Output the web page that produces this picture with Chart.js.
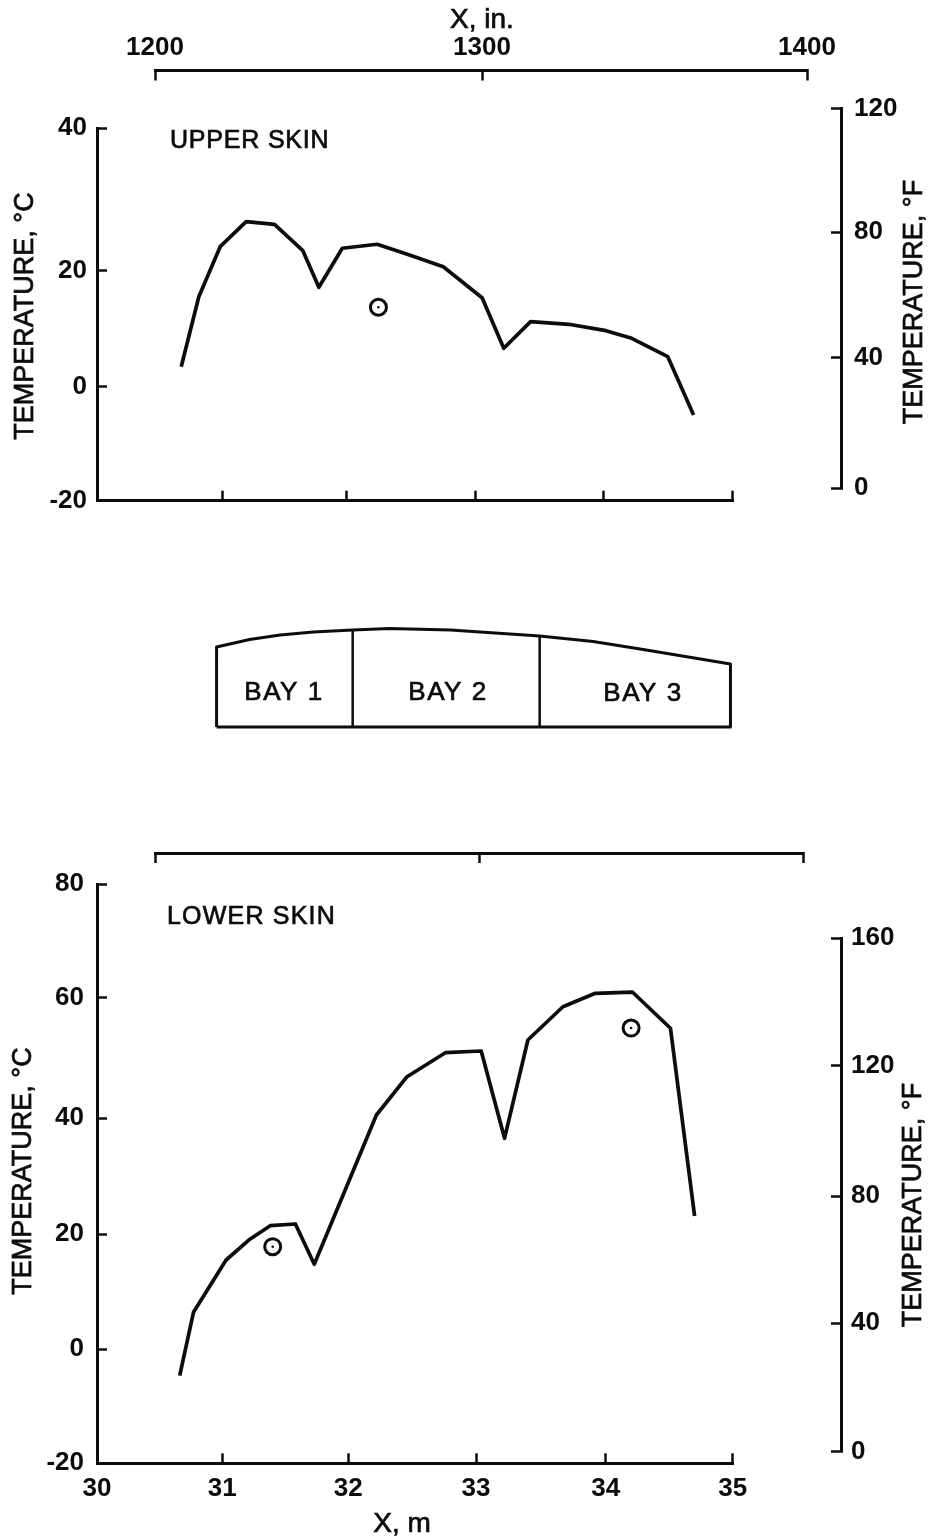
<!DOCTYPE html>
<html>
<head>
<meta charset="utf-8">
<title>Skin temperature</title>
<script src="https://cdn.jsdelivr.net/npm/chart.js@4/dist/chart.umd.min.js"></script>
<style>
  html, body { margin: 0; background: #fff; }
  #page { position: relative; width: 933px; height: 1538px; overflow: hidden; }
  #page canvas { position: absolute; left: 0; top: 0; }
</style>
</head>
<body>
<div id="page"></div>
<script>
// values
var upperX = [30.67, 30.81, 30.98, 31.19, 31.42, 31.65, 31.78, 31.97, 32.24, 32.49, 32.75, 33.05, 33.22, 33.43, 33.73, 34.02, 34.22, 34.50, 34.70];
var upperTemp = [3.44, 15.49, 23.34, 26.85, 26.48, 22.78, 17.11, 23.12, 23.68, 22.18, 20.53, 15.32, 6.61, 11.19, 10.74, 9.64, 8.33, 5.16, -4.96];
var upperMarkX = [32.25];
var upperMarkTemp = [13.67];

var lowerX = [30.66, 30.77, 31.03, 31.21, 31.38, 31.58, 31.73, 32.22, 32.46, 32.76, 33.04, 33.22, 33.40, 33.67, 33.92, 34.21, 34.51, 34.70];
var lowerTemp = [-4.63, 6.43, 15.53, 19.0, 21.48, 21.78, 14.78, 40.55, 46.9, 50.88, 51.16, 36.55, 52.99, 58.5, 60.78, 61.0, 54.93, 23.16];
var lowerMarkX = [31.40, 34.20];
var lowerMarkTemp = [17.84, 54.97];

// bay outline, x in m, height above the base line
var bayX = [30.94, 30.94, 31.2, 31.44, 31.7, 32.01, 32.30, 32.78, 33.48, 33.9, 34.27, 34.98, 34.98, 30.94];
var bayHeight = [0, 80, 87.5, 92, 95, 97, 98.5, 97, 91, 85.5, 78, 63, 0, 0];
var bay1EndX = [32.01, 32.01];
var bay2EndX = [33.48, 33.48];
var bay1EndHeight = [0, 97];
var bay2EndHeight = [0, 91];

// tick labels
var meterTicks = [30, 31, 32, 33, 34, 35];
var inchTicks = [1200, 1300, 1400];
var upperCTicks = [-20, 0, 20, 40];
var upperFTicks = [0, 40, 80, 120];
var lowerCTicks = [-20, 0, 20, 40, 60, 80];
var lowerFTicks = [0, 40, 80, 120, 160];

var INK = '#0c0c0c';
var W = 933, H = 1538;
var TICK_FONT = { family: 'Liberation Sans', size: 26, weight: 'bold' };

// the printed axes are not evenly spaced, so go from tick to tick
class TickScale extends Chart.LinearScale {
  getPixelForValue(v) {
    var t = this.options.tickValues, p = this.options.tickPixels;
    var i = 0;
    while (i < t.length - 2 && v > t[i + 1]) i++;
    return p[i] + (v - t[i]) / (t[i + 1] - t[i]) * (p[i + 1] - p[i]);
  }
}
TickScale.id = 'tickScale';
TickScale.defaults = Chart.LinearScale.defaults;
Chart.register(TickScale);

var captions = {
  id: 'captions',
  afterDraw: function (chart, args, opts) {
    var ctx = chart.ctx;
    (opts.items || []).forEach(function (c) {
      ctx.save();
      ctx.translate(c.x, c.y);
      if (c.up) ctx.rotate(-Math.PI / 2);
      ctx.fillStyle = INK;
      ctx.strokeStyle = INK;
      ctx.font = c.font || '25px "Liberation Sans"';
      ctx.letterSpacing = c.spacing || '0px';
      ctx.textAlign = c.align || 'center';
      ctx.textBaseline = 'middle';
      ctx.fillText(c.text, 0, 0);
      // scanned type is heavier than the regular face
      ctx.lineWidth = 0.7;
      ctx.strokeText(c.text, 0, 0);
      ctx.restore();
    });
  }
};

function xy(xs, ys) {
  return xs.map(function (x, i) { return { x: x, y: ys[i] }; });
}

function lineSet(xs, ys, width) {
  return { data: xy(xs, ys), showLine: true, borderColor: INK, borderWidth: width || 3.7, pointRadius: 0, tension: 0, clip: false, borderJoinStyle: 'round' };
}

function markSets(xs, ys) {
  return [
    { data: xy(xs, ys), showLine: false, pointRadius: 8, pointBorderWidth: 3, pointBorderColor: INK, pointBackgroundColor: 'rgba(0,0,0,0)', clip: false },
    { data: xy(xs, ys), showLine: false, pointRadius: 1.3, pointBorderWidth: 0, pointBackgroundColor: INK, clip: false }
  ];
}

// one axis, ticks pointing into the plot, labels just outside it
function axis(position, ticks, pixels, gap, showLabels) {
  return {
    type: 'tickScale',
    position: position,
    min: ticks[0],
    max: ticks[ticks.length - 1],
    tickValues: ticks,
    tickPixels: pixels,
    afterBuildTicks: function (s) { s.ticks = ticks.map(function (v) { return { value: v }; }); },
    border: { display: true, color: INK, width: 3 },
    grid: { drawOnChartArea: false, drawTicks: true, tickLength: -10, tickWidth: 2.5, tickColor: INK },
    ticks: {
      display: showLabels !== false,
      autoSkip: false,
      maxRotation: 0,
      color: INK,
      font: TICK_FONT,
      padding: 10 + (gap || 10),
      callback: function (v) { return String(v); }
    }
  };
}

function hidden() {
  return { type: 'linear', display: false, min: 0, max: 1 };
}

function addChart(area, scales, datasets, items) {
  var canvas = document.createElement('canvas');
  canvas.width = W;
  canvas.height = H;
  document.getElementById('page').appendChild(canvas);
  var room = { left: area.left, top: area.top, right: W - area.right, bottom: H - area.bottom };
  var pad = Object.assign({}, room);
  // pin every visible axis to the plot box so labels never push it around
  Object.keys(scales).forEach(function (k) {
    var sc = scales[k];
    if (!sc.position) return;
    pad[sc.position] = 0;
    sc.afterFit = function (s) {
      s.paddingLeft = s.paddingRight = s.paddingTop = s.paddingBottom = 0;
      if (k === 'x') {
        s.width = s._length = area.right - area.left;
        s.height = room[sc.position];
      } else {
        s.height = s._length = area.bottom - area.top;
        s.width = room[sc.position];
      }
    };
  });
  return new Chart(canvas.getContext('2d'), {
    type: 'scatter',
    data: { datasets: datasets },
    plugins: [captions],
    options: {
      responsive: false,
      animation: false,
      events: [],
      layout: { padding: pad },
      scales: scales,
      plugins: { legend: { display: false }, tooltip: { enabled: false }, captions: { items: items || [] } }
    }
  });
}

var TITLE_FONT = '27px "Liberation Sans"';
var XTITLE_FONT = '28px "Liberation Sans"';
var BAY_FONT = '26px "Liberation Sans"';

// upper panel
addChart({ left: 97, right: 733, top: 128, bottom: 500.7 }, {
  x: axis('bottom', meterTicks, [97, 222.7, 346, 475.7, 603.3, 732.3], 10, false),
  y: axis('left', upperCTicks, [500.7, 386.7, 270.5, 128], 10)
}, [lineSet(upperX, upperTemp)].concat(markSets(upperMarkX, upperMarkTemp)), [
  { text: 'TEMPERATURE, °C', x: 26, y: 316, up: true, font: TITLE_FONT },
  { text: 'UPPER SKIN', x: 170, y: 141, align: 'left', spacing: '0.8px' }
]);
addChart({ left: 155, right: 807, top: 70.5, bottom: 300 }, {
  x: axis('top', inchTicks, [155, 482, 807], 7),
  y: hidden()
}, [], [{ text: 'X, in.', x: 482, y: 20, font: XTITLE_FONT }]);
addChart({ left: 0, right: 841, top: 108.5, bottom: 488.3 }, {
  x: hidden(),
  y: axis('right', upperFTicks, [488.3, 357.7, 232, 108.5], 13)
}, [], [{ text: 'TEMPERATURE, °F', x: 915, y: 302, up: true, font: TITLE_FONT }]);

// bay sketch between the panels
addChart({ left: 97, right: 733, top: 617, bottom: 727 }, {
  x: { type: 'linear', display: false, min: 30, max: 35 },
  y: { type: 'linear', display: false, min: 0, max: 110 }
}, [
  lineSet(bayX, bayHeight, 3),
  lineSet(bay1EndX, bay1EndHeight, 2.5),
  lineSet(bay2EndX, bay2EndHeight, 2.5)
], [
  { text: 'BAY 1', x: 284, y: 693, spacing: '1.5px', font: BAY_FONT },
  { text: 'BAY 2', x: 448, y: 693, spacing: '1.5px', font: BAY_FONT },
  { text: 'BAY 3', x: 643, y: 694, spacing: '1.5px', font: BAY_FONT }
]);

// lower panel
addChart({ left: 97, right: 733, top: 884.3, bottom: 1463.3 }, {
  x: axis('bottom', meterTicks, [97, 222.3, 348.3, 476, 605.7, 732.7], 10),
  y: axis('left', lowerCTicks, [1463.3, 1349.3, 1234.3, 1118.3, 997.7, 884.3], 13)
}, [lineSet(lowerX, lowerTemp)].concat(markSets(lowerMarkX, lowerMarkTemp)), [
  { text: 'TEMPERATURE, °C', x: 23.5, y: 1171, up: true, font: TITLE_FONT },
  { text: 'LOWER SKIN', x: 167, y: 917, align: 'left', spacing: '1.2px' },
  { text: 'X, m', x: 402, y: 1524, font: XTITLE_FONT }
]);
addChart({ left: 155, right: 803, top: 853, bottom: 1100 }, {
  x: axis('top', inchTicks, [155.5, 479.5, 803], 12, false),
  y: hidden()
}, []);
addChart({ left: 0, right: 841, top: 938.3, bottom: 1451.7 }, {
  x: hidden(),
  y: axis('right', lowerFTicks, [1451.7, 1323.3, 1196, 1065.7, 938.3], 10)
}, [], [{ text: 'TEMPERATURE, °F', x: 914, y: 1205, up: true, font: TITLE_FONT }]);
</script>
</body>
</html>
